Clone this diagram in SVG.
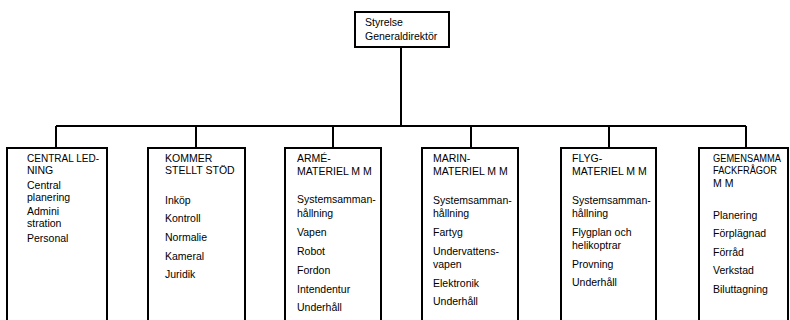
<svg xmlns="http://www.w3.org/2000/svg" width="790" height="320" viewBox="0 0 790 320">
<style>
.box{fill:#fff;stroke:#000;stroke-width:2}
.ln{fill:none;stroke:#000;stroke-width:2}
text{font-family:"Liberation Sans",Arial,sans-serif;font-size:10.5px;fill:#000}
</style>
<rect width="790" height="320" fill="#fff"/>
<g id="connectors">
<path class="ln" d="M401 47V126M56 126H746M56 126V148M196 126V148M333 126V148M471 126V148M609 126V148M746 126V148"/>
</g>
<g id="top">
<rect class="box" x="355" y="12" width="94" height="35"/>
<text x="365" y="26">Styrelse</text>
<text x="365" y="40">Generaldirektör</text>
</g>
<g id="central">
<rect class="box" x="7" y="148" width="100" height="180"/>
<text x="27" y="162" textLength="72" lengthAdjust="spacingAndGlyphs">CENTRAL LED-</text>
<text x="27" y="174">NING</text>
<text x="27" y="189">Central</text>
<text x="27" y="201">planering</text>
<text x="27" y="215">Admini</text>
<text x="27" y="227">stration</text>
<text x="27" y="242">Personal</text>
</g>
<g id="kommer">
<rect class="box" x="148" y="148" width="97" height="180"/>
<text x="165" y="162">KOMMER</text>
<text x="165" y="174">STELLT STÖD</text>
<text x="165" y="204">Inköp</text>
<text x="165" y="222">Kontroll</text>
<text x="165" y="241">Normalie</text>
<text x="165" y="260">Kameral</text>
<text x="165" y="278">Juridik</text>
</g>
<g id="arme">
<rect class="box" x="285" y="148" width="96" height="180"/>
<text x="297" y="162">ARMÉ-</text>
<text x="297" y="175">MATERIEL M M</text>
<text x="297" y="203">Systemsamman-</text>
<text x="297" y="217">hållning</text>
<text x="297" y="236">Vapen</text>
<text x="297" y="255">Robot</text>
<text x="297" y="274">Fordon</text>
<text x="297" y="293">Intendentur</text>
<text x="297" y="311">Underhåll</text>
</g>
<g id="marin">
<rect class="box" x="422" y="148" width="96" height="180"/>
<text x="433" y="162">MARIN-</text>
<text x="433" y="175">MATERIEL M M</text>
<text x="433" y="204">Systemsamman-</text>
<text x="433" y="217">hållning</text>
<text x="433" y="236">Fartyg</text>
<text x="433" y="255">Undervattens-</text>
<text x="433" y="268">vapen</text>
<text x="433" y="287">Elektronik</text>
<text x="433" y="305">Underhåll</text>
</g>
<g id="flyg">
<rect class="box" x="561" y="148" width="95" height="180"/>
<text x="572" y="162">FLYG-</text>
<text x="572" y="175">MATERIEL M M</text>
<text x="572" y="204">Systemsamman-</text>
<text x="572" y="217">hållning</text>
<text x="572" y="236">Flygplan och</text>
<text x="572" y="249">helikoptrar</text>
<text x="572" y="268">Provning</text>
<text x="572" y="286">Underhåll</text>
</g>
<g id="gemensamma">
<rect class="box" x="699" y="148" width="89" height="180"/>
<text x="713" y="162" textLength="68" lengthAdjust="spacingAndGlyphs">GEMENSAMMA</text>
<text x="713" y="174" textLength="64" lengthAdjust="spacingAndGlyphs">FACKFRÅGOR</text>
<text x="713" y="187">M M</text>
<text x="713" y="219">Planering</text>
<text x="713" y="237">Förplägnad</text>
<text x="713" y="256">Förråd</text>
<text x="713" y="274">Verkstad</text>
<text x="713" y="293">Biluttagning</text>
</g>
</svg>
